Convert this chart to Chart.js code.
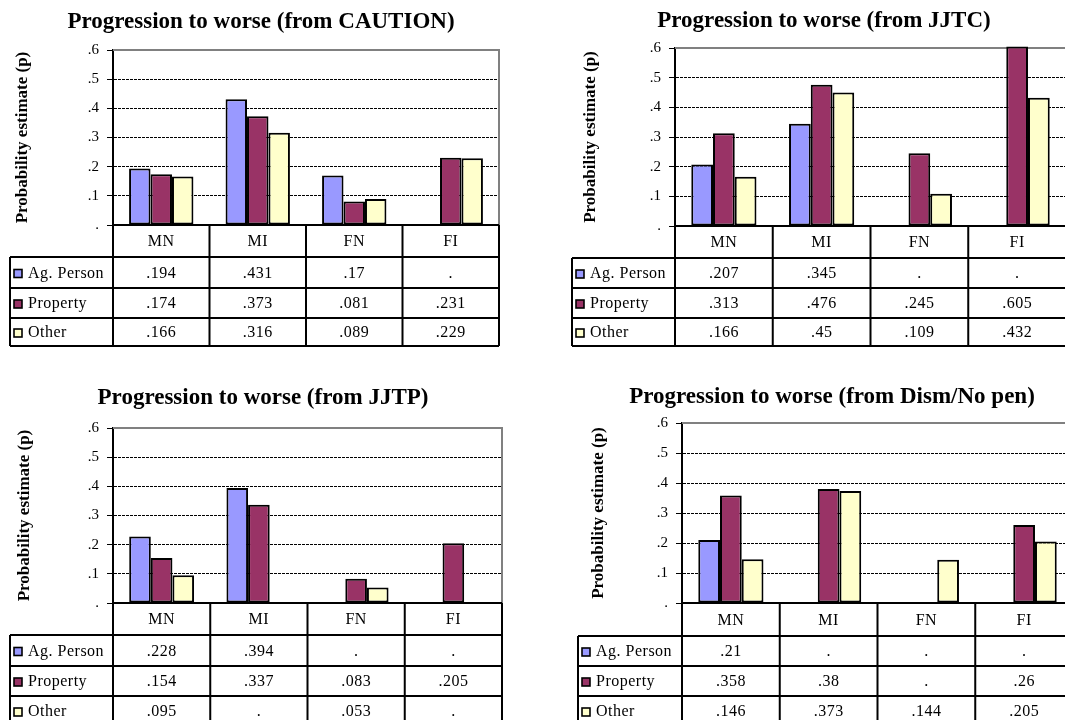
<!DOCTYPE html>
<html>
<head>
<meta charset="utf-8">
<script src="https://cdn.jsdelivr.net/npm/chart.js@4.4.1/dist/chart.umd.min.js"></script>
<style>
  html, body { margin: 0; padding: 0; background: #fff; overflow: hidden; width: 1065px; height: 720px; }
  canvas { position: absolute; }
</style>
</head>
<body>
<canvas id="cCaution"></canvas>
<canvas id="cJjtc"></canvas>
<canvas id="cJjtp"></canvas>
<canvas id="cDism"></canvas>
<script>
// Offence categories and the three offence-type series
const categories = ['MN', 'MI', 'FN', 'FI'];
const seriesNames = ['Ag. Person', 'Property', 'Other'];
const tickLabels = ['.', '.1', '.2', '.3', '.4', '.5', '.6'];

// From CAUTION
const cautionAgPerson = [0.194, 0.431, 0.17, null];
const cautionProperty = [0.174, 0.373, 0.081, 0.231];
const cautionOther    = [0.166, 0.316, 0.089, 0.229];

// From JJTC
const jjtcAgPerson = [0.207, 0.345, null, null];
const jjtcProperty = [0.313, 0.476, 0.245, 0.605];
const jjtcOther    = [0.166, 0.45, 0.109, 0.432];

// From JJTP
const jjtpAgPerson = [0.228, 0.394, null, null];
const jjtpProperty = [0.154, 0.337, 0.083, 0.205];
const jjtpOther    = [0.095, null, 0.053, null];

// From Dism/No pen
const dismAgPerson = [0.21, null, null, null];
const dismProperty = [0.358, 0.38, null, 0.26];
const dismOther    = [0.146, 0.373, 0.144, 0.205];

const seriesColors = ['#9999FF', '#993366', '#FFFFCC'];
const SERIF = "'Liberation Serif', 'Times New Roman', serif";

Chart.defaults.font.family = SERIF;
Chart.defaults.color = '#000';

function fmt(v) {
  return v == null ? '.' : String(v).replace(/^0\./, '.');
}

// Plot frame, panel title and the data table under the category axis
const panelDecor = {
  id: 'panelDecor',
  beforeDatasetsDraw(chart) {
    const { ctx, chartArea: a } = chart;
    ctx.save();
    ctx.strokeStyle = '#808080';
    ctx.lineWidth = 2;
    ctx.beginPath();
    ctx.moveTo(a.left, a.top);
    ctx.lineTo(a.right, a.top);
    ctx.lineTo(a.right, a.bottom);
    ctx.stroke();
    ctx.restore();
  },
  afterDraw(chart, args, o) {
    const { ctx, chartArea: a } = chart;
    const xs = chart.scales.x;
    const n = categories.length;
    const step = (a.right - a.left) / n;
    ctx.save();
    ctx.fillStyle = '#000';
    ctx.textAlign = 'center';
    ctx.textBaseline = 'middle';
    ctx.font = 'bold 23px ' + SERIF;
    ctx.fillText(o.title, o.titleX, o.titleY);

    const bounds = [a.left];
    for (let i = 0; i < n; i++) bounds.push(xs.getPixelForValue(i) + step / 2);
    const ys = [a.bottom];
    o.rows.forEach(h => ys.push(ys[ys.length - 1] + h));
    const last = ys[ys.length - 1];

    ctx.strokeStyle = '#000';
    ctx.lineWidth = 2;
    ctx.beginPath();
    ctx.moveTo(a.left, ys[0]);
    ctx.lineTo(bounds[n], ys[0]);
    for (let r = 1; r < ys.length; r++) {
      ctx.moveTo(o.tableLeft, ys[r]);
      ctx.lineTo(bounds[n], ys[r]);
    }
    ctx.moveTo(o.tableLeft, ys[1]);
    ctx.lineTo(o.tableLeft, last);
    bounds.forEach(bx => { ctx.moveTo(bx, ys[0]); ctx.lineTo(bx, last); });
    ctx.stroke();

    ctx.font = '16px ' + SERIF;
    ctx.letterSpacing = '0.5px';
    categories.forEach((c, i) => ctx.fillText(c, xs.getPixelForValue(i), (ys[0] + ys[1]) / 2 + 1));

    chart.data.datasets.forEach((ds, r) => {
      const cy = (ys[r + 1] + ys[r + 2]) / 2 + 1;
      ctx.fillStyle = ds.backgroundColor;
      ctx.fillRect(o.tableLeft + 4, cy - 4, 8, 8);
      ctx.lineWidth = 1.6;
      ctx.strokeRect(o.tableLeft + 4, cy - 4, 8, 8);
      ctx.fillStyle = '#000';
      ctx.textAlign = 'left';
      ctx.fillText(ds.label, o.tableLeft + 18, cy);
      ctx.textAlign = 'center';
      ds.data.forEach((v, i) => ctx.fillText(fmt(v), xs.getPixelForValue(i), cy));
    });
    ctx.restore();
  }
};

function makePanel(id, p, series) {
  const cv = document.getElementById(id);
  cv.width = p.w; cv.height = p.h;
  cv.style.left = p.x + 'px'; cv.style.top = p.y + 'px';
  cv.style.width = p.w + 'px'; cv.style.height = p.h + 'px';
  const tableH = p.rows.reduce((s, h) => s + h, 0);
  const padLeft = 2;
  const pad = {
    left: padLeft,
    top: p.plot.t - p.y,
    right: p.x + p.w - p.plot.r,
    bottom: p.y + p.h - p.plot.b - tableH
  };
  const yWidth = p.plot.l - p.x - padLeft;
  new Chart(cv, {
    type: 'bar',
    data: {
      labels: categories,
      datasets: series.map((d, i) => ({
        label: seriesNames[i],
        data: d,
        backgroundColor: seriesColors[i],
        borderColor: '#000',
        borderWidth: 2,
        borderSkipped: false,
        clip: false
      }))
    },
    options: {
      responsive: false,
      animation: false,
      devicePixelRatio: 1,
      layout: { padding: pad },
      datasets: { bar: { barPercentage: 1, categoryPercentage: 0.667 } },
      plugins: {
        legend: { display: false },
        tooltip: { enabled: false },
        panelDecor: {
          title: p.title,
          titleX: p.titleX - p.x,
          titleY: p.titleY - p.y,
          tableLeft: p.tableLeft - p.x,
          rows: p.rows
        }
      },
      scales: {
        x: {
          ticks: { display: false },
          grid: { display: false, drawTicks: false },
          border: { display: true, color: '#000', width: 2 },
          afterFit: s => { s.height = tableH; }
        },
        y: {
          min: 0, max: 0.6,
          ticks: {
            stepSize: 0.1,
            callback: v => tickLabels[Math.round(v * 10)],
            font: { size: 15, family: SERIF },
            color: '#000',
            padding: 8
          },
          grid: {
            color: c => (c.tick && c.tick.value > 0.001 && c.tick.value < 0.599) ? '#000' : 'rgba(0,0,0,0)',
            lineWidth: 1,
            tickColor: '#000',
            tickLength: 6,
            tickWidth: 1
          },
          border: { display: true, color: '#000', width: 2, dash: [3, 1] },
          title: {
            display: true,
            text: 'Probability estimate (p)',
            font: { size: 17, weight: 'bold', family: SERIF },
            color: '#000',
            padding: { top: p.yTitleX - p.x - padLeft - 10.2, bottom: 0 }
          },
          afterFit: s => { s.width = yWidth; }
        }
      }
    },
    plugins: [panelDecor]
  });
}

makePanel('cCaution', {
  title: 'Progression to worse (from CAUTION)',
  x: 0, y: 0, w: 532, h: 360,
  plot: { l: 113, t: 50, r: 499, b: 225 },
  titleX: 261, titleY: 22, yTitleX: 23, tableLeft: 10,
  rows: [32, 31, 30, 28]
}, [cautionAgPerson, cautionProperty, cautionOther]);

makePanel('cJjtc', {
  title: 'Progression to worse (from JJTC)',
  x: 540, y: 0, w: 560, h: 360,
  plot: { l: 675, t: 48, r: 1066, b: 226 },
  titleX: 824, titleY: 21, yTitleX: 591, tableLeft: 572,
  rows: [32, 30, 30, 28]
}, [jjtcAgPerson, jjtcProperty, jjtcOther]);

makePanel('cJjtp', {
  title: 'Progression to worse (from JJTP)',
  x: 0, y: 375, w: 532, h: 360,
  plot: { l: 113, t: 428, r: 502, b: 603 },
  titleX: 263, titleY: 398, yTitleX: 25, tableLeft: 10,
  rows: [32, 31, 30, 30]
}, [jjtpAgPerson, jjtpProperty, jjtpOther]);

makePanel('cDism', {
  title: 'Progression to worse (from Dism/No pen)',
  x: 540, y: 375, w: 560, h: 360,
  plot: { l: 682, t: 423, r: 1073, b: 603 },
  titleX: 832, titleY: 397, yTitleX: 599, tableLeft: 578,
  rows: [33, 30, 30, 30]
}, [dismAgPerson, dismProperty, dismOther]);
</script>
</body>
</html>
